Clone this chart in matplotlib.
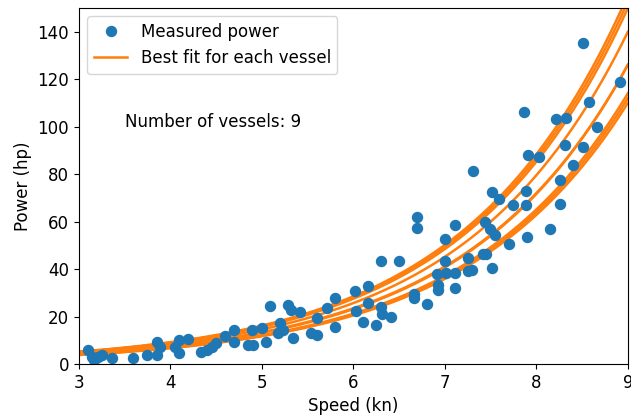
import numpy as np
import matplotlib
matplotlib.use("Agg")
import matplotlib.pyplot as plt

plt.rcParams['font.size'] = 12

# measured points (speed kn, power hp)
speed = [3.10, 3.14, 3.17, 3.21, 3.25, 3.36, 3.59, 3.74, 3.85, 3.85, 3.89,
         4.05, 4.09, 4.09, 4.19, 4.34, 4.40, 4.45, 4.50, 4.60, 4.70, 4.70,
         4.85, 4.89, 4.90, 5.00, 5.05, 5.09, 5.20, 5.18, 5.23, 5.29, 5.32,
         5.34, 5.42, 5.54, 5.60, 5.60, 5.71, 5.80, 5.80, 6.02, 6.03,
         6.16, 6.16, 6.11, 6.25, 6.30, 6.31, 6.41, 6.30, 6.50,
         6.66, 6.66, 6.81, 6.70, 6.70, 6.91, 6.92, 6.92, 7.00, 7.00, 7.01,
         7.11, 7.11, 7.11, 7.25, 7.25, 7.30, 7.31, 7.42, 7.45, 7.44, 7.49,
         7.51, 7.51, 7.55, 7.59, 7.70, 7.75, 7.86, 7.89, 7.89, 7.90, 7.91,
         8.03, 8.15, 8.22, 8.26, 8.26, 8.31, 8.32, 8.40, 8.51, 8.51, 8.57,
         8.66, 8.91]
power = [5.9, 3.1, 1.7, 3.1, 3.8, 2.4, 2.4, 3.8, 9.4, 3.8, 7.3,
         7.3, 10.1, 4.5, 10.4, 5.2, 5.9, 7.3, 8.7, 11.8, 14.3, 9.4,
         8.0, 14.3, 8.0, 15.0, 9.4, 24.4, 17.1, 12.9, 14.3, 24.8, 22.7,
         10.8, 22.0, 12.9, 12.2, 19.2, 23.8, 28.0, 15.7, 30.8, 22.4,
         32.8, 25.8, 17.8, 16.4, 24.1, 21.3, 19.9, 43.3, 43.3,
         29.7, 28.0, 25.2, 61.9, 57.4, 37.8, 33.2, 31.4, 52.8, 43.3, 38.4,
         58.4, 38.4, 32.2, 44.7, 39.2, 39.8, 81.5, 46.5, 46.5, 59.8, 57.0,
         72.4, 40.6, 54.2, 69.6, 50.7, 66.8, 106.3, 73.1, 66.8, 53.5, 88.2,
         87.4, 57.0, 103.2, 77.7, 67.5, 92.4, 103.6, 84.0, 135.4, 91.6, 110.2,
         100.0, 118.6]

# fitted curve parameters per vessel: power = a * exp(b * speed)
fit_a = [0.962, 0.945, 0.928, 0.866, 0.816, 0.780, 0.738, 0.725, 0.712]
fit_b = [0.565, 0.565, 0.565, 0.565, 0.560, 0.565, 0.560, 0.560, 0.560]

fig, ax = plt.subplots(figsize=(6.31, 4.18), dpi=100)
fig.subplots_adjust(left=0.125, right=0.995, bottom=0.129, top=0.981)

v = np.linspace(3, 9, 300)
line = None
for a, b in zip(fit_a, fit_b):
    line, = ax.plot(v, a * np.exp(b * v), color='C1', lw=1.8)
pts, = ax.plot(speed, power, 'o', color='C0', ms=7.2)

ax.legend([pts, line], ['Measured power', 'Best fit for each vessel'],
          loc='upper left')
ax.text(3.5, 100, 'Number of vessels: ' + str(len(fit_a)))

ax.set_xlim(3, 9)
ax.set_ylim(0, 150)
ax.set_xlabel('Speed (kn)')
ax.set_ylabel('Power (hp)')

fig.savefig('out.png')
